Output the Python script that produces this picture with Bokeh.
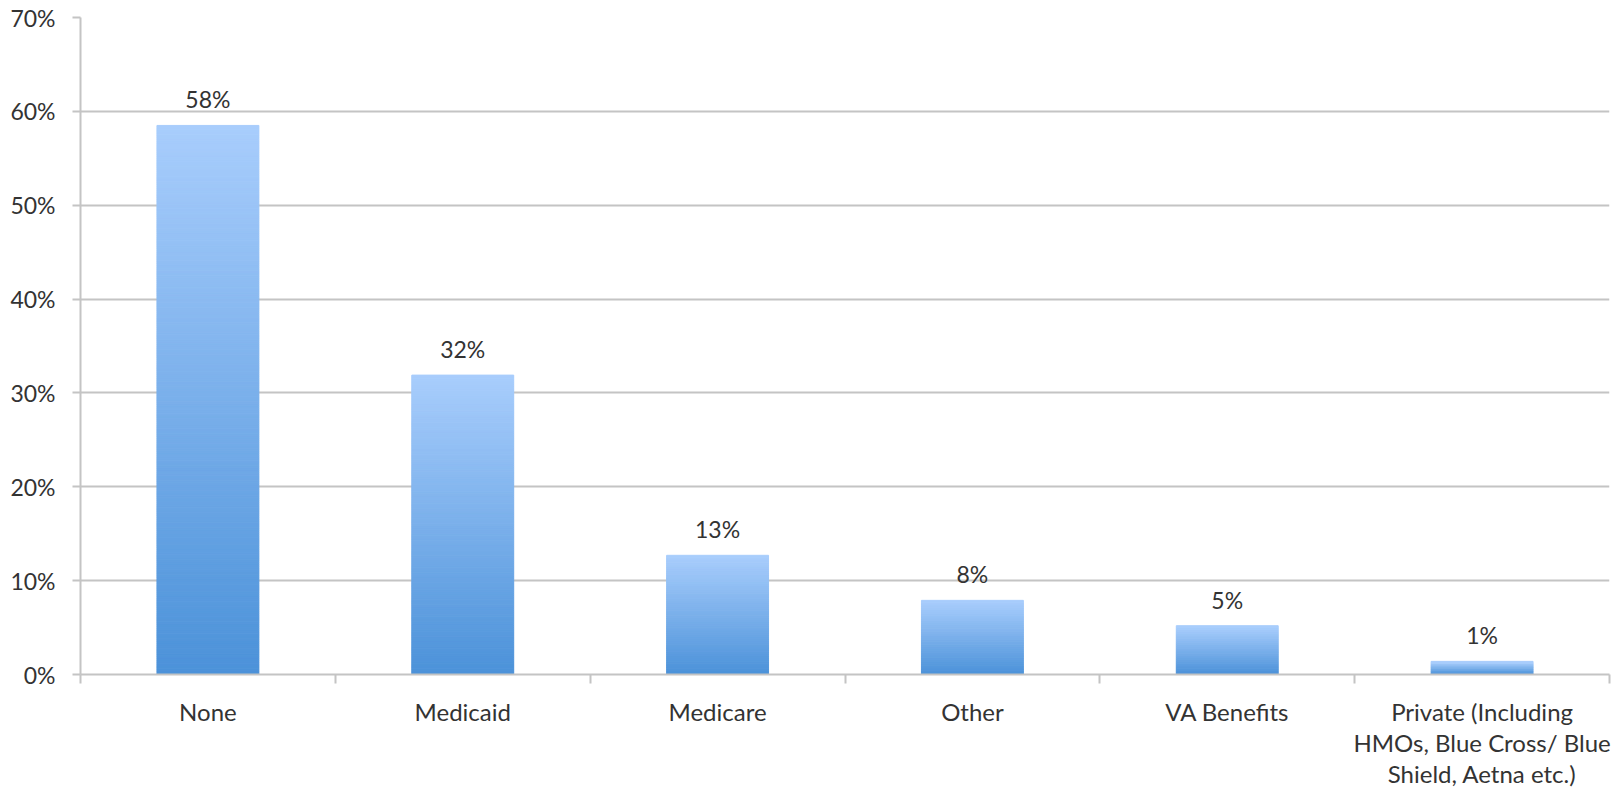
from bokeh.plotting import figure
from bokeh.models import Range1d, FixedTicker, PrintfTickFormatter, ColumnDataSource
from bokeh.embed import file_html
from bokeh.resources import INLINE
from bokeh.core.properties import value

categories = ["None", "Medicaid", "Medicare", "Other", "VA Benefits",
              "Private (Including\nHMOs, Blue Cross/ Blue\nShield, Aetna etc.)"]
values = [58.5, 31.9, 12.7, 7.9, 5.2, 1.4]
labels = ["58%", "32%", "13%", "8%", "5%", "1%"]
y_ticks = [0, 10, 20, 30, 40, 50, 60, 70]

FONT = "Lato"
TXT = "#333333"
GRID = "#c4c4c4"
TOP = (168, 205, 252)
BOT = (76, 146, 217)

p = figure(width=1613, height=791, output_backend="svg", toolbar_location=None,
           x_range=Range1d(0, len(categories)), y_range=Range1d(0, 70),
           min_border_left=80, min_border_right=4, min_border_top=17,
           min_border_bottom=115)
p.outline_line_color = None
p.background_fill_color = "white"

# gradient bars built from values (fine horizontal slices)
STEP = 0.2
xs_l, xs_r, bs, ts, cols = [], [], [], [], []
w = 0.4
for i, v in enumerate(values):
    cx = i + 0.5
    n = max(2, int(round(v / STEP)))
    for k in range(n):
        t = k / (n - 1)
        c = tuple(int(round(BOT[j] + (TOP[j] - BOT[j]) * t)) for j in range(3))
        xs_l.append(cx - w / 2)
        xs_r.append(cx + w / 2)
        bs.append(v * k / n)
        ts.append(v * (k + 1) / n)
        cols.append("#%02x%02x%02x" % c)
p.quad(left=xs_l, right=xs_r, bottom=bs, top=ts, fill_color=cols, line_color=cols, line_width=1)

src = ColumnDataSource(dict(x=[i + 0.5 for i in range(len(values))], y=values, t=labels))
p.text(x="x", y="y", text="t", source=src, text_align="center", text_baseline="alphabetic",
       y_offset=-26, text_font=value(FONT), text_font_size="23px", text_color=TXT)

# y axis
p.yaxis.ticker = FixedTicker(ticks=y_ticks)
p.yaxis.formatter = PrintfTickFormatter(format="%d%%")
p.yaxis.major_tick_in = 0
p.yaxis.major_tick_out = 8
p.yaxis.minor_tick_line_color = None
p.yaxis.axis_line_color = GRID
p.yaxis.axis_line_width = 2
p.yaxis.major_tick_line_color = GRID
p.yaxis.major_tick_line_width = 2
p.yaxis.major_label_standoff = 17
p.yaxis.major_label_text_font = FONT
p.yaxis.major_label_text_font_size = "23px"
p.yaxis.major_label_text_color = TXT
p.ygrid.ticker = FixedTicker(ticks=y_ticks)
p.ygrid.grid_line_color = GRID
p.ygrid.grid_line_width = 2
p.xgrid.grid_line_color = None

# x axis: labels at centres, ticks at boundaries (minor)
p.xaxis.ticker = FixedTicker(ticks=[i + 0.5 for i in range(len(categories))],
                             minor_ticks=list(range(len(categories) + 1)))
p.xaxis.major_label_overrides = {i + 0.5: c for i, c in enumerate(categories)}
p.xaxis.major_tick_in = 0
p.xaxis.major_tick_out = 0
p.xaxis.major_tick_line_color = None
p.xaxis.minor_tick_in = 0
p.xaxis.minor_tick_out = 9
p.xaxis.minor_tick_line_color = GRID
p.xaxis.minor_tick_line_width = 2
p.xaxis.axis_line_color = GRID
p.xaxis.axis_line_width = 2
p.xaxis.major_label_standoff = 13
p.xaxis.major_label_text_font = FONT
p.xaxis.major_label_text_font_size = "24px"
p.xaxis.major_label_text_color = TXT
p.xaxis.major_label_text_line_height = 1.08

open("out.html", "w").write(file_html(p, INLINE))
